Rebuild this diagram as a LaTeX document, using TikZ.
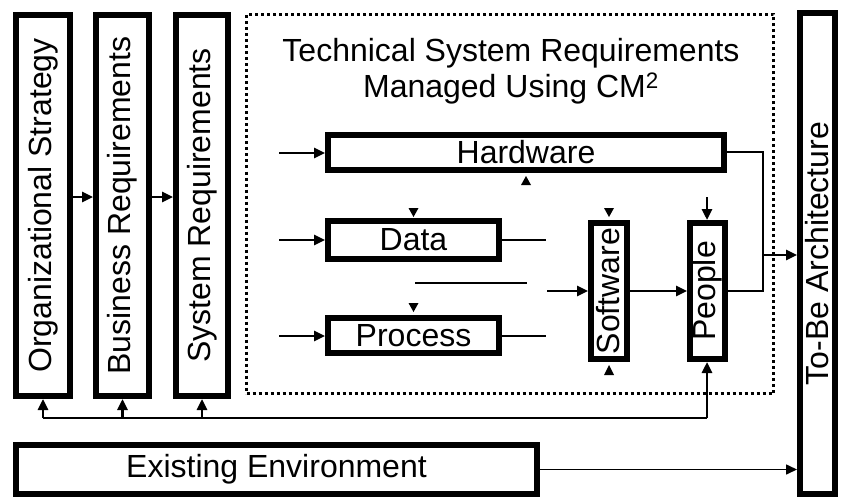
\documentclass[tikz,border=0pt]{standalone}
\usepackage{fontspec}
\setmainfont{Liberation Sans}
\usetikzlibrary{arrows.meta}
\begin{document}
\begin{tikzpicture}[x=1pt,y=-1pt,
  box/.style={draw, line width=6pt, inner sep=0pt, font=\fontsize{32}{36}\selectfont},
  arr/.style={-{Triangle[length=11pt,width=10pt]}, line width=2.6pt},
  ln/.style={line width=2.6pt}]
\useasboundingbox (0,0) rectangle (843,500);
% main boxes
\node[box, minimum width=54pt, minimum height=381pt] (org) at (43,205.5) {\rotatebox{90}{Organizational Strategy}};
\node[box, minimum width=53pt, minimum height=381pt] (bus) at (122.5,205.5) {\rotatebox{90}{Business Requirements}};
\node[box, minimum width=52pt, minimum height=381pt] (sys) at (202,205.5) {\rotatebox{90}{System Requirements}};
\node[draw, line width=3pt, dash pattern=on 3pt off 3pt, minimum width=527pt, minimum height=379pt, inner sep=0pt] (tsr) at (510,204) {};
\node[font=\fontsize{32}{36}\selectfont, align=center, inner sep=0pt] (title) at (511,71) {Technical System Requirements\\Managed Using CM\textsuperscript{2}};
\node[box, minimum width=396pt, minimum height=35pt] (hw) at (526,152.5) {Hardware};
\node[box, minimum width=171pt, minimum height=38pt] (data) at (413.5,240) {Data};
\node[box, minimum width=171pt, minimum height=35pt] (proc) at (413.5,335.5) {Process};
\node[box, minimum width=36pt, minimum height=136pt] (sw) at (609,291) {\rotatebox{90}{\raisebox{1.5pt}{Software}}};
\node[box, minimum width=35pt, minimum height=136pt] (ppl) at (707.5,291) {\rotatebox{90}{\raisebox{2pt}{People}}};
\node[box, minimum width=35pt, minimum height=481pt] (tobe) at (817.5,253.5) {\rotatebox{90}{To-Be Architecture}};
\node[box, minimum width=521pt, minimum height=49pt] (exist) at (276.5,469.5) {Existing Environment};
% free-end coordinates
\coordinate (inhw) at (279,153);
\coordinate (indata) at (279,240);
\coordinate (inproc) at (279,336);
\coordinate (dataout) at (546,240);
\coordinate (procout) at (546,336);
\coordinate (midA) at (415,283);
\coordinate (midB) at (527,283);
\coordinate (swin) at (547,291);
\coordinate (hwturn) at (763,152);
\coordinate (joinx) at (763,255);
\coordinate (pplin) at (707,197);
\coordinate (fbR) at (707,418);
\coordinate (fbL) at (43,418);
% left chain
\draw[arr] (org.east |- 0,197) -- (bus.west |- 0,197);
\draw[arr] (bus.east |- 0,197) -- (sys.west |- 0,197);
% inputs
\draw[arr] (inhw) -- (inhw -| hw.west);
\draw[arr] (indata) -- (indata -| data.west);
\draw[arr] (inproc) -- (inproc -| proc.west);
\draw[ln] (data.east |- dataout) -- (dataout);
\draw[ln] (proc.east |- procout) -- (procout);
\draw[ln] (midA) -- (midB);
\draw[arr] (swin) -- (swin -| sw.west);
\draw[arr] (sw.east) -- (ppl.west);
\draw[arr] (pplin) -- (pplin |- ppl.north);
% outputs
\draw[ln] (hw.east |- hwturn) -- (hwturn) -- (hwturn |- ppl.east) -- (ppl.east);
\draw[arr] (joinx) -- (joinx -| tobe.west);
\draw[arr, line width=1.6pt] (exist.east) -- (exist.east -| tobe.west);
% feedback
\draw[arr] (fbR) -- (fbR |- ppl.south);
\draw[ln] (fbR) -- (fbL);
\draw[arr] (fbL) -- (org.south);
\draw[arr] (fbL -| bus.south) -- (bus.south);
\draw[arr] (fbL -| sys.south) -- (sys.south);
% small triangles
\fill ([xshift=-5pt,yshift=-12pt]hw.south) -- ([xshift=5pt,yshift=-12pt]hw.south) -- ([yshift=-3pt]hw.south) -- cycle;
\fill ([xshift=-5pt,yshift=10pt]data.north) -- ([xshift=5pt,yshift=10pt]data.north) -- ([yshift=1pt]data.north) -- cycle;
\fill ([xshift=-5pt,yshift=12pt]proc.north) -- ([xshift=5pt,yshift=12pt]proc.north) -- ([yshift=3pt]proc.north) -- cycle;
\fill ([xshift=-5pt,yshift=12pt]sw.north) -- ([xshift=5pt,yshift=12pt]sw.north) -- ([yshift=3pt]sw.north) -- cycle;
\fill ([xshift=-5pt,yshift=-13pt]sw.south) -- ([xshift=5pt,yshift=-13pt]sw.south) -- ([yshift=-3pt]sw.south) -- cycle;
\end{tikzpicture}
\end{document}
